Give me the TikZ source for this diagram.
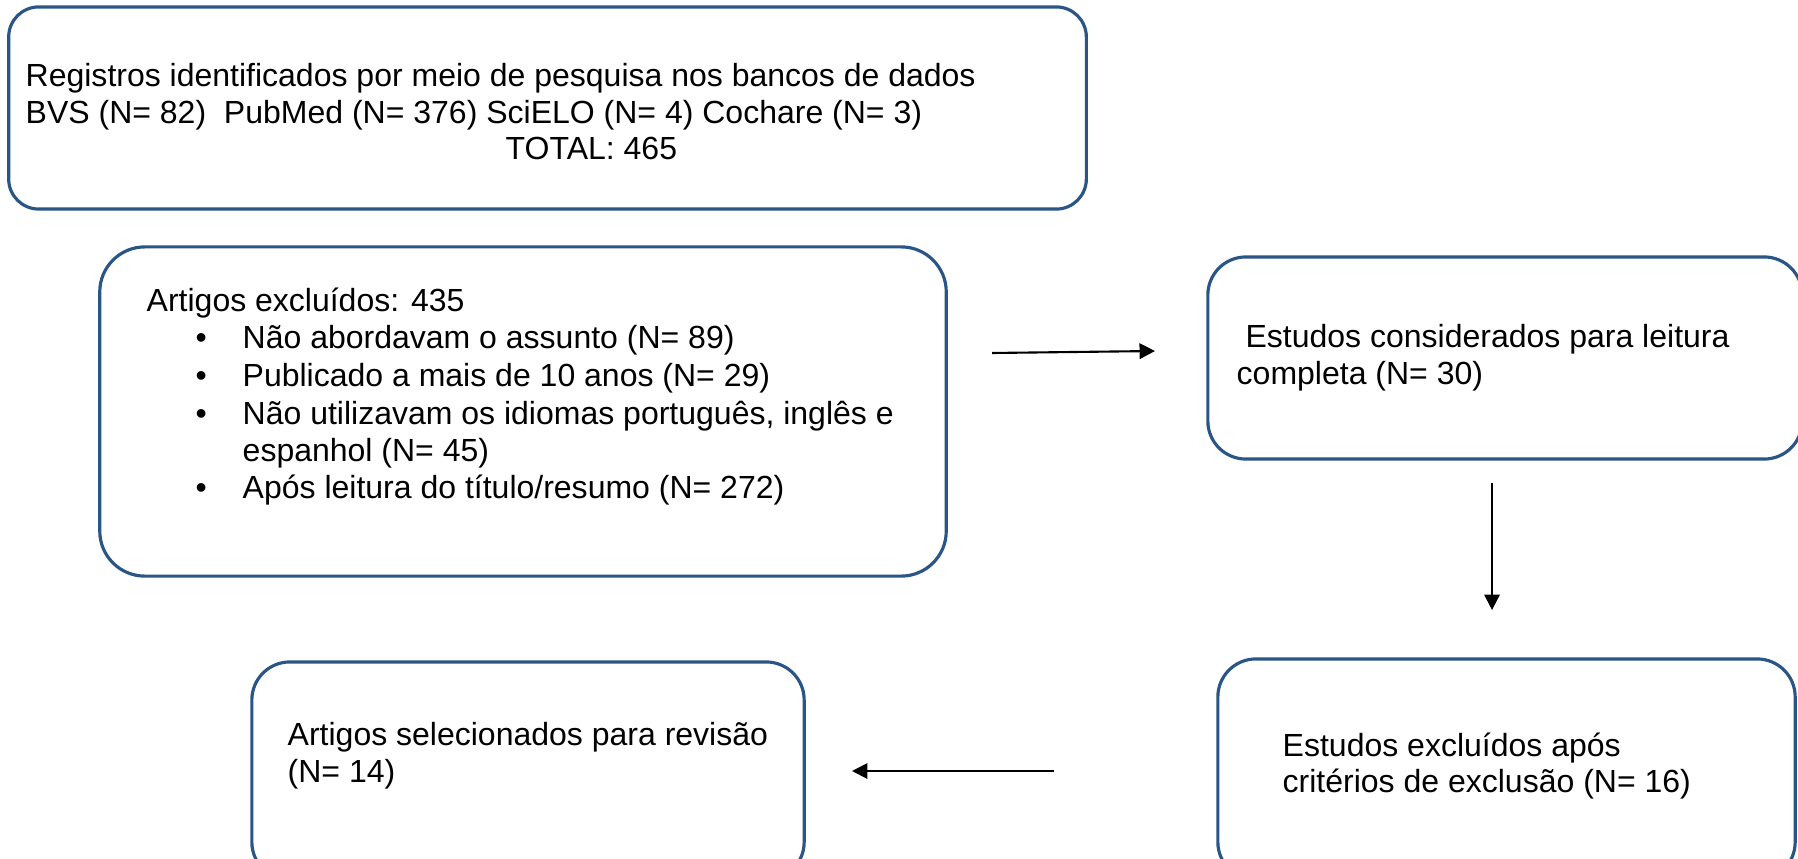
\documentclass[tikz,border=0pt]{standalone}
\usepackage{fontspec}
\setmainfont{Liberation Sans}
\usepackage{tikz}
\usetikzlibrary{positioning,arrows.meta}
\definecolor{myblue}{RGB}{41,86,134}

\begin{document}
\begin{tikzpicture}[x=0.01cm,y=-0.01cm,
		  box/.style={draw=myblue,line width=0.9pt,rounded corners=0.38cm,inner sep=0pt},
		  txt/.style={anchor=base west,inner sep=0pt,font=\fontsize{9.1}{10.5}\selectfont},
		  arr/.style={line width=0.6pt,-{Triangle[length=4.4pt,width=4.4pt]}}
		]
			\useasboundingbox (0,0) rectangle (1798,858);
			\clip (0,0) rectangle (1798,858);

			% the boxes
			\node[box,rounded corners=0.3cm,minimum width=10.77cm,minimum height=2.02cm] (reg) at (547.5,108) {};
			\node[box,rounded corners=0.45cm,minimum width=8.46cm,minimum height=3.29cm] (excl) at (523,411.5) {};
			\node[box,minimum width=5.94cm,minimum height=2.02cm] (leit) at (1505,358) {};
			\node[box,minimum width=5.77cm,minimum height=2.21cm] (excl2) at (1506.5,769.5) {};
			\node[box,minimum width=5.52cm,minimum height=2.18cm] (sel) at (528,771) {};

			% the records
			\node[txt] (reg1) at (25,87) {Registros identificados por meio de pesquisa nos bancos de dados};
			\node[txt] (reg2) at (25,124) {BVS (N= 82)\ \ PubMed (N= 376) SciELO (N= 4) Cochare (N= 3)};
			\node[txt] (reg3) at (505,160) {TOTAL: 465};

			% the excluded articles
			\node[txt] (ex0) at (146,312) {Artigos excluídos: 435};
			\foreach \t/\y [count=\i] in {{Não abordavam o assunto (N= 89)}/349,
			                               {Publicado a mais de 10 anos (N= 29)}/386.5,
			                               {Não utilizavam os idiomas português, inglês e}/424,
			                               {Após leitura do título/resumo (N= 272)}/498}
			  {
			  \node[txt] (bul\i) at (195,\y) {•};
			  \node[txt] (ex\i) at (242,\y) {\t};
			  }
			\node[txt] (ex5) at (242,461) {espanhol (N= 45)};

			% the full reading
			\node[txt] (le1) at (1236,347.5) {\ Estudos considerados para leitura};
			\node[txt] (le2) at (1236,384.5) {completa (N= 30)};

			% excluded after criteria
			\node[txt] (ec1) at (1282,756) {Estudos excluídos após};
			\node[txt] (ec2) at (1282,792) {critérios de exclusão (N= 16)};

			% selected
			\node[txt] (se1) at (287,745) {Artigos selecionados para revisão};
			\node[txt] (se2) at (287,782) {(N= 14)};

			% the arrows
			\coordinate (a1s) at (992,353);
			\coordinate (a1e) at (1155,351);
			\coordinate (a2s) at (1492,483);
			\coordinate (a2e) at (1492,610);
			\coordinate (a3s) at (1054,771);
			\coordinate (a3e) at (852,771);
			\draw[arr] (a1s) -- (a1e);
			\draw[arr] (a2s) -- (a2e);
			\draw[arr] (a3s) -- (a3e);

		\end{tikzpicture}
\end{document}
